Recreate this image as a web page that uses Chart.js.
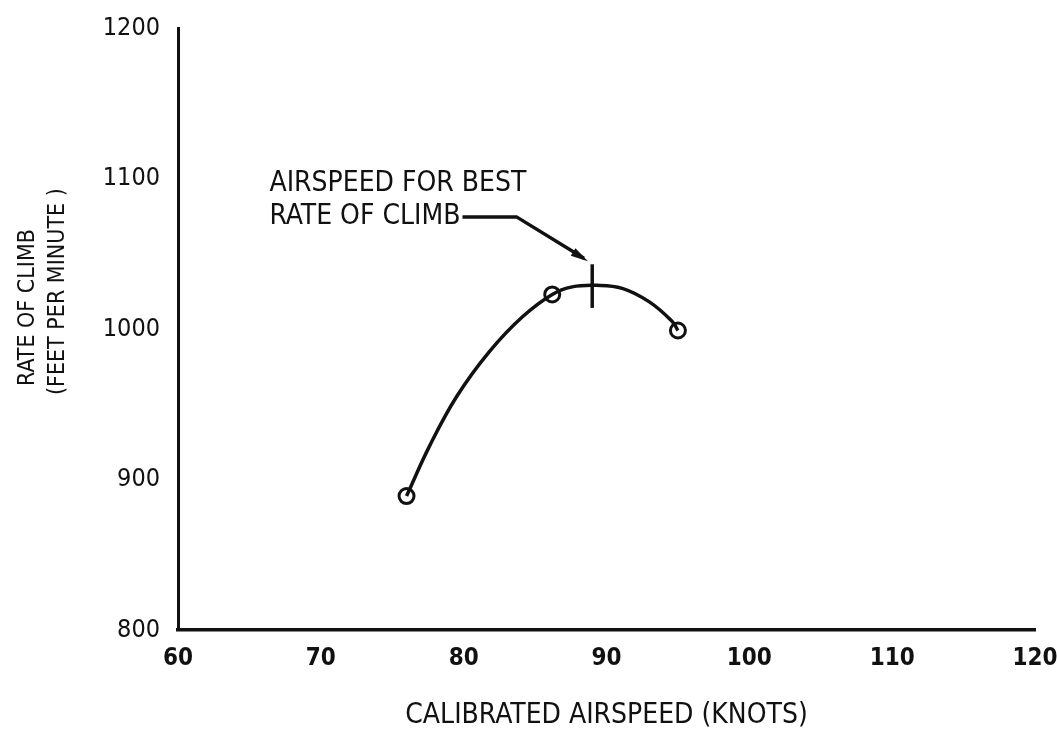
<!DOCTYPE html>
<html>
<head>
<meta charset="utf-8">
<script src="https://cdn.jsdelivr.net/npm/chart.js@4.4.1/dist/chart.umd.min.js"></script>
<style>
  html, body { margin: 0; padding: 0; background: #fff; }
  #wrap { width: 1057px; height: 753px; position: relative; }
</style>
</head>
<body>
<div id="wrap"><canvas id="climbChart"></canvas></div>
<script>
// measured points (the circles)
var airspeed = [76, 86.2, 95];
var climbRate = [889, 1023, 999];

// faired curve
var curveSpeed = [76, 77.6, 79.5, 81.8, 84.1, 86.2, 87.6, 89.3, 91.1, 93, 94.6, 95];
var curveRate = [889, 922, 955, 985, 1008, 1023, 1028, 1029, 1027, 1018, 1005, 999];

// short vertical mark at best-climb airspeed
var bestSpeed = 89;
var bestMark = [1014, 1043];

var xTicks = [60, 70, 80, 90, 100, 110, 120];
var yTicks = [800, 900, 1000, 1100, 1200];

var letterFont = "'DejaVu Sans Condensed', 'Liberation Sans Narrow', 'DejaVu Sans', sans-serif";

function pts(xs, ys) {
    return xs.map(function (x, i) { return { x: x, y: ys[i] }; });
}

// y title + note with arrow
var notes = {
    id: 'notes',
    afterDraw: function (chart) {
        var c = chart.ctx, sx = chart.scales.x, sy = chart.scales.y;
        c.save();
        c.fillStyle = '#111';
        c.textBaseline = 'middle';
        c.textAlign = 'left';

        // y axis title, rotated
        c.font = '23px ' + letterFont;
        c.save();
        c.translate(28, 386);
        c.rotate(-Math.PI / 2);
        c.fillText('RATE OF CLIMB', 0, 0);
        c.fillText('(FEET PER MINUTE )', -9, 30);
        c.restore();

        // note
        c.font = '28px ' + letterFont;
        var tx = sx.getPixelForValue(66.4);
        c.fillText('AIRSPEED FOR BEST', tx, sy.getPixelForValue(1096.5));
        var y2 = sy.getPixelForValue(1074.5);
        c.fillText('RATE OF CLIMB', tx, y2);
        var w = c.measureText('RATE OF CLIMB').width;

        var x0 = tx + w + 2, x1 = sx.getPixelForValue(83.7);
        var tipX = sx.getPixelForValue(88.7), tipY = sy.getPixelForValue(1045);
        c.strokeStyle = '#111';
        c.lineWidth = 3.5;
        c.beginPath();
        c.moveTo(x0, y2);
        c.lineTo(x1, y2);
        c.lineTo(tipX - 4, tipY - 3);
        c.stroke();
        var ang = Math.atan2(tipY - y2, tipX - x1);
        c.beginPath();
        c.moveTo(tipX, tipY);
        c.lineTo(tipX - 18 * Math.cos(ang - 0.25), tipY - 18 * Math.sin(ang - 0.25));
        c.lineTo(tipX - 18 * Math.cos(ang + 0.25), tipY - 18 * Math.sin(ang + 0.25));
        c.closePath();
        c.fill();
        c.restore();
    }
};

var ctx = document.getElementById('climbChart').getContext('2d');
var chart = new Chart(ctx, {
    type: 'scatter',
    data: {
        datasets: [{
            label: 'curve',
            data: pts(curveSpeed, curveRate),
            showLine: true,
            tension: 0.4,
            borderColor: '#111',
            borderWidth: 3.5,
            pointRadius: 0
        }, {
            label: 'best',
            data: [{ x: bestSpeed, y: bestMark[0] }, { x: bestSpeed, y: bestMark[1] }],
            showLine: true,
            borderColor: '#111',
            borderWidth: 3.5,
            pointRadius: 0
        }, {
            label: 'measured',
            data: pts(airspeed, climbRate),
            showLine: false,
            pointStyle: 'circle',
            pointRadius: 7.5,
            pointBackgroundColor: '#fff',
            pointBorderColor: '#111',
            pointBorderWidth: 3
        }]
    },
    options: {
        responsive: true,
        maintainAspectRatio: false,
        animation: false,
        events: [],
        layout: { padding: { top: 28, right: 22, left: 0, bottom: 0 } },
        plugins: { legend: { display: false }, tooltip: { enabled: false } },
        scales: {
            x: {
                type: 'linear',
                min: 60,
                max: 120,
                afterBuildTicks: function (s) { s.ticks = xTicks.map(function (v) { return { value: v }; }); },
                afterFit: function (s) { s.height = 123; s.paddingRight = 0; s.paddingLeft = 0; },
                grid: { display: false, drawTicks: false },
                border: { display: true, color: '#111', width: 3.5 },
                ticks: {
                    color: '#111', padding: 14, maxRotation: 0,
                    font: { family: letterFont, size: 24, weight: 'bold' },
                    callback: function (v) { return String(v); }
                },
                title: {
                    display: true,
                    text: 'CALIBRATED AIRSPEED (KNOTS)',
                    color: '#111',
                    font: { family: letterFont, size: 28, lineHeight: 1.2 },
                    padding: { top: 0, bottom: 20 }
                }
            },
            y: {
                type: 'linear',
                min: 800,
                max: 1200,
                afterBuildTicks: function (s) { s.ticks = yTicks.map(function (v) { return { value: v }; }); },
                afterFit: function (s) { s.width = 178; s.paddingTop = 0; s.paddingBottom = 0; },
                grid: { display: false, drawTicks: false },
                border: { display: true, color: '#111', width: 3 },
                ticks: {
                    color: '#111', padding: 18,
                    font: { family: letterFont, size: 25 },
                    callback: function (v) { return String(v); }
                }
            }
        }
    },
    plugins: [notes]
});
</script>
</body>
</html>
